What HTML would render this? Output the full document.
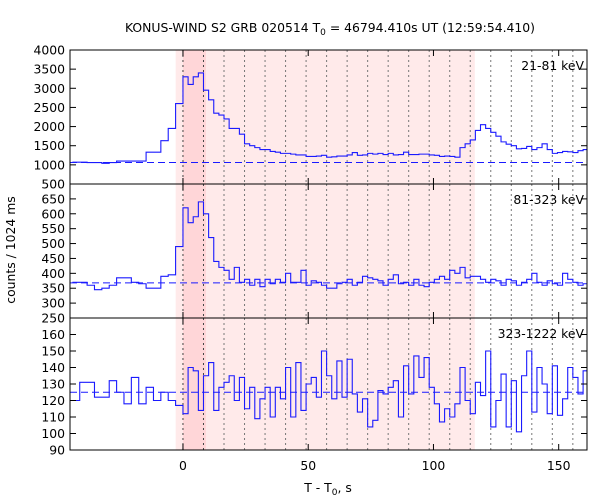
<!DOCTYPE html>
<html><head><meta charset="utf-8">
<style>
body{margin:0;background:#fff;}
svg{display:block;font-family:"DejaVu Sans","Liberation Sans",sans-serif;}
</style></head>
<body>
<svg id="chart" width="600" height="500" viewBox="0 0 600 500" xmlns="http://www.w3.org/2000/svg">
<text x="330" y="32" font-size="12.4" text-anchor="middle">KONUS-WIND S2 GRB 020514 T<tspan font-size="9" dy="3">0</tspan><tspan dy="-3"> = 46794.410s UT (12:59:54.410)</tspan></text>
<text transform="translate(15,250) rotate(-90)" font-size="12.4" text-anchor="middle">counts / 1024 ms</text>
<text x="328" y="492" font-size="12.4" text-anchor="middle">T - T<tspan font-size="9" dy="3">0</tspan><tspan dy="-3">, s</tspan></text>
<g id="plots"></g>
</svg>
<script>
// ---- data ----
const preEdgesStart = -44.16;   // s
const preBin = 2.944;           // s
const postBin = 2.048;          // s
const bgLevels = [1060, 368, 125];
const bandLabels = ["21-81 keV", "81-323 keV", "323-1222 keV"];
const yTicks1 = [500,1000,1500,2000,2500,3000,3500,4000];
const yTicks2 = [250,300,350,400,450,500,550,600,650];
const yTicks3 = [90,100,110,120,130,140,150,160];
const xTicks = [0,50,100,150];
const pre1 = [1070,1070,1060,1060,1040,1060,1100,1100,1100,1100,1330,1330,1630,1950,2600];
const post1 = [3300,3100,3300,3400,2950,2700,2350,2300,2200,1950,1950,1800,1550,1500,1450,1400,1400,1350,1330,1300,1300,1280,1260,1260,1220,1220,1230,1250,1200,1210,1230,1230,1260,1320,1250,1260,1300,1280,1300,1270,1300,1260,1270,1330,1270,1270,1280,1280,1260,1250,1220,1230,1220,1200,1450,1550,1650,1900,2050,1950,1850,1750,1600,1540,1500,1420,1430,1480,1400,1450,1550,1400,1300,1320,1350,1340,1320,1370,1400,1300,1200];
const pre2 = [370,370,360,345,350,360,385,385,370,365,350,350,390,395,490];
const post2 = [620,570,590,640,600,520,440,420,410,380,420,370,380,360,380,355,380,365,380,370,400,370,370,410,360,375,370,360,350,350,365,370,380,360,370,390,385,380,375,360,380,395,365,370,360,380,360,355,370,380,390,380,410,400,420,385,390,390,380,370,380,375,360,380,375,360,370,380,400,370,360,375,365,360,400,380,370,360,365];
const pre3 = [120,131,131,122,122,132,125,118,134,118,128,120,125,120,117];
const post3 = [112,140,138,114,135,143,114,128,131,135,120,134,115,128,109,121,128,110,128,121,140,110,143,114,130,134,122,150,135,121,144,122,145,124,113,121,104,108,126,124,128,132,110,141,124,147,134,146,128,118,107,115,110,118,140,120,112,131,123,150,104,120,136,104,132,101,135,150,113,140,130,112,141,111,121,140,134,124,138,113];
const dotLines = [0,8.192,16.384,24.576,32.768,40.96,49.152,57.344,65.536,73.728,81.92,90.112,98.304,106.496,114.688,122.88,131.072,139.264,147.456,155.648];
const shadeLight = [-2.9, 116.5];
const shadeDark = [0, 9.2];

// ---- layout ----
const X0=70, X1=587, TMIN=-45.1, TMAX=161.3;
const xs = t => X0 + (t-TMIN)/(TMAX-TMIN)*(X1-X0);
const panels = [
  {top:50,bot:184,min:500,max:4000,pre:pre1,post:post1,ticks:yTicks1},
  {top:184,bot:318,min:250,max:700,pre:pre2,post:post2,ticks:yTicks2},
  {top:318,bot:450,min:90,max:170,pre:pre3,post:post3,ticks:yTicks3}
];
const NS="http://www.w3.org/2000/svg";
const root=document.getElementById('plots');
function mk(tag,attrs,parent){const e=document.createElementNS(NS,tag);for(const k in attrs)e.setAttribute(k,attrs[k]);(parent||root).appendChild(e);return e;}

panels.forEach((p,i)=>{
  const ys=v=>p.bot-(v-p.min)/(p.max-p.min)*(p.bot-p.top);
  const g=mk('g',{});
  
  
  const cp=mk('clipPath',{id:'cp'+i},g);
  mk('rect',{x:X0,y:p.top,width:X1-X0,height:p.bot-p.top},cp);
  const sl=mk('rect',{x:xs(shadeLight[0]),y:p.top,width:xs(shadeLight[1])-xs(shadeLight[0]),height:p.bot-p.top,fill:'#ffeaea'},g);
  
  
  const sd=mk('rect',{x:xs(shadeDark[0]),y:p.top,width:xs(shadeDark[1])-xs(shadeDark[0]),height:p.bot-p.top,fill:'#ffd6d8'},g);
  
  
  dotLines.forEach((t,k)=>{
    const l=mk('line',{x1:xs(t),x2:xs(t),y1:p.top,y2:p.bot,stroke:k<2?'#444':'#777','stroke-width':1,'stroke-dasharray':'2,3'},g);
    
    
  });
  let d='', first=true;
  const add=(t0,t1,v)=>{const y=ys(v);if(first){d+=`M${xs(t0)},${y}`;first=false;}else d+=`L${xs(t0)},${y}`;d+=`L${xs(t1)},${y}`;};
  p.pre.forEach((v,k)=>add(preEdgesStart+k*preBin,preEdgesStart+(k+1)*preBin,v));
  p.post.forEach((v,k)=>add(k*postBin,(k+1)*postBin,v));
  const path=mk('path',{d,fill:'none',stroke:'#1a1aff','stroke-width':1.1,'clip-path':`url(#cp${i})`},g);
  
  
  const bl=mk('line',{x1:X0,x2:X1,y1:ys(bgLevels[i]),y2:ys(bgLevels[i]),stroke:'#1a1aff','stroke-dasharray':'7,4','stroke-width':1},g);
  
  
  p.ticks.forEach(v=>{
    const y=ys(v);
    mk('line',{x1:X0,x2:X0+6,y1:y,y2:y,stroke:'#000'},g);
    mk('line',{x1:X1-6,x2:X1,y1:y,y2:y,stroke:'#000'},g);
    const tl=mk('text',{x:X0-5,y:y+4.5,'font-size':12.4,'text-anchor':'end'},g);
    tl.textContent=v;
    
    
  });
  xTicks.forEach(t=>{
    mk('line',{x1:xs(t),x2:xs(t),y1:p.bot,y2:p.bot-6,stroke:'#000'},g);
    mk('line',{x1:xs(t),x2:xs(t),y1:p.top,y2:p.top+6,stroke:'#000'},g);
  });
  mk('rect',{x:X0,y:p.top,width:X1-X0,height:p.bot-p.top,fill:'none',stroke:'#000'},g);
  const lb=mk('text',{x:X1-3,y:p.top+20,'font-size':12.4,'text-anchor':'end'},g);
  lb.textContent=bandLabels[i];
  
  
});
xTicks.forEach(t=>{
  const tl=mk('text',{x:xs(t),y:470,'font-size':12.4,'text-anchor':'middle'});
  tl.textContent=t;
  
  
});
</script>
</body></html>
